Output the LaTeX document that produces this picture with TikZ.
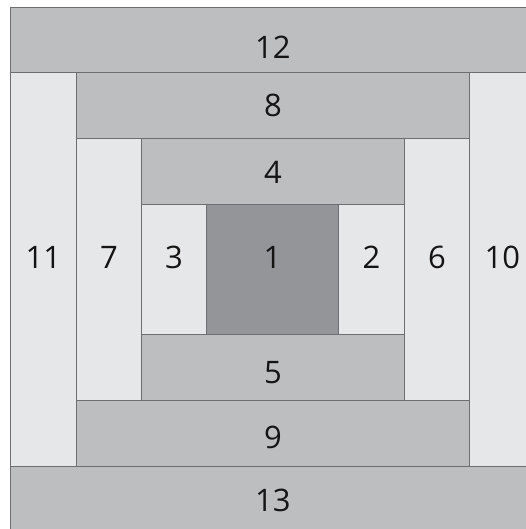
\documentclass[tikz,border=0pt]{standalone}
\usepackage{fontspec}
\setmainfont{Open Sans}
\usepackage{xcolor}
\usepackage{tikz}
\usetikzlibrary{positioning}
\definecolor{PatchMid}  {RGB}{189, 190, 192}
\definecolor{PatchLight}{RGB}{230, 231, 232}
\definecolor{PatchDark} {RGB}{147, 149, 152}
\definecolor{SeamGray}  {RGB}{109, 110, 113}

\tikzset{
  patch/.style={draw=SeamGray, line width=0.9pt, anchor=north west, inner sep=0pt},
  num/.style={font=\fontsize{31}{34}\selectfont, text=black!92, inner sep=0pt}
}

\begin{document}
\begin{tikzpicture}[x=1pt, y=-1pt]
      \useasboundingbox (0,0) rectangle (525,529);
      \fill[white] (0,0) rectangle (525,529);
      % outer round
      \node[patch, fill=PatchMid, minimum width=525pt, minimum height=65pt,
        label={[num, yshift=-7pt]center:12}] (p12) at (10,7) {};
      \node[patch, fill=PatchMid, minimum width=525pt, minimum height=65pt,
        label={[num, yshift=-1pt]center:13}] (p13) at (10,466) {};
      \node[patch, fill=PatchLight, minimum width=66pt, minimum height=394pt,
        label={[num, yshift=12pt]center:11}] (p11) at (10,72) {};
      \node[patch, fill=PatchLight, minimum width=66pt, minimum height=394pt,
        label={[num, yshift=12pt]center:10}] (p10) at (469,72) {};
      % middle round
      \node[patch, fill=PatchMid, minimum width=393pt, minimum height=66pt,
        label={[num]center:8}] (p8) at (76,72) {};
      \node[patch, fill=PatchMid, minimum width=393pt, minimum height=66pt,
        label={[num, yshift=-4pt]center:9}] (p9) at (76,400) {};
      \node[patch, fill=PatchLight, minimum width=65pt, minimum height=262pt,
        label={[num, yshift=12pt]center:7}] (p7) at (76,138) {};
      \node[patch, fill=PatchLight, minimum width=65pt, minimum height=262pt,
        label={[num, yshift=12pt]center:6}] (p6) at (404,138) {};
      % inner round
      \node[patch, fill=PatchMid, minimum width=263pt, minimum height=66pt,
        label={[num, yshift=-1pt]center:4}] (p4) at (141,138) {};
      \node[patch, fill=PatchMid, minimum width=263pt, minimum height=66pt,
        label={[num, yshift=-5pt]center:5}] (p5) at (141,334) {};
      \node[patch, fill=PatchLight, minimum width=65pt, minimum height=130pt,
        label={[num, yshift=12pt]center:3}] (p3) at (141,204) {};
      \node[patch, fill=PatchLight, minimum width=66pt, minimum height=130pt,
        label={[num, yshift=12pt]center:2}] (p2) at (338,204) {};
      % centre
      \node[patch, fill=PatchDark, minimum width=132pt, minimum height=130pt,
        label={[num, yshift=12pt]center:1}] (p1) at (206,204) {};
    \end{tikzpicture}
\end{document}
